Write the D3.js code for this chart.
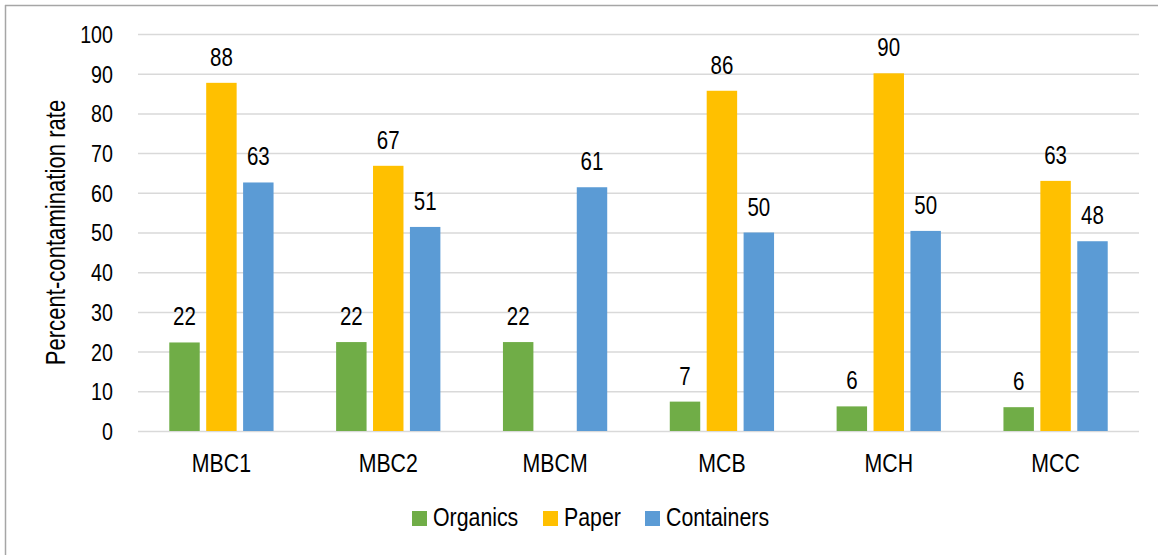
<!DOCTYPE html>
<html>
<head>
<meta charset="utf-8">
<script src="https://cdn.jsdelivr.net/npm/d3@7/dist/d3.min.js"></script>
<style>
  html, body { margin: 0; padding: 0; background: #fff; }
  svg { display: block; }
  text { font-family: "Liberation Sans", Arial, sans-serif; fill: #000; }
</style>
</head>
<body>
<svg id="chart" width="1158" height="555"></svg>
<script>
// Contamination rates (%) by site and stream
const sites = ["MBC1", "MBC2", "MBCM", "MCB", "MCH", "MCC"];
const seriesNames = ["Organics", "Paper", "Containers"];
const organics = [22.3, 22.4, 22.4, 7.4, 6.2, 6.0];
const paper = [87.7, 66.8, null, 85.7, 90.1, 63.0];
const containers = [62.6, 51.4, 61.4, 50.0, 50.4, 47.8];
const seriesColors = ["#70ad47", "#ffc000", "#5b9bd5"];
const yTicks = [0, 10, 20, 30, 40, 50, 60, 70, 80, 90, 100];

const seriesValues = [organics, paper, containers];
const svg = d3.select("#chart");
const FONT = '"Liberation Sans", Arial, sans-serif';
const NARROW = "scale(0.82,1)"; // condensed lettering

const plot = { left: 138, right: 1139, top: 34, bottom: 431 };

// Outer frame (left and top edges)
svg.append("line").attr("x1", 5.5).attr("x2", 5.5).attr("y1", 5).attr("y2", 555)
  .attr("stroke", "#a6a6a6").attr("stroke-width", 1.5);
svg.append("line").attr("x1", 5).attr("x2", 1158).attr("y1", 5.5).attr("y2", 5.5)
  .attr("stroke", "#a6a6a6").attr("stroke-width", 1.5);

const y = d3.scaleLinear().domain([0, 100]).range([plot.bottom, plot.top]);
const x0 = d3.scaleBand().domain(sites).range([plot.left, plot.right])
  .paddingInner(0.375).paddingOuter(0.1875);
const x1 = d3.scaleBand().domain(seriesNames).range([0, x0.bandwidth()])
  .paddingInner(0.175).paddingOuter(0);

// Gridlines
svg.append("g").selectAll("line").data(yTicks).join("line")
  .attr("x1", plot.left).attr("x2", plot.right)
  .attr("y1", d => y(d) + 0.5).attr("y2", d => y(d) + 0.5)
  .attr("stroke", "#d9d9d9").attr("stroke-width", 1.5);

// Y axis tick labels
const yAxis = d3.axisLeft(y).tickValues(yTicks).tickSize(0).tickPadding(0);
const yg = svg.append("g").attr("transform", "translate(113,0)").call(yAxis);
yg.select(".domain").remove();
yg.selectAll("text").attr("font-size", 24).attr("fill", "#000")
  .style("font-family", FONT)
  .attr("x", 0).attr("dy", "0.35em").attr("transform", NARROW);

// Y axis title
svg.append("text")
  .attr("transform", `translate(65,${(plot.top + plot.bottom) / 2}) rotate(-90) ${NARROW}`)
  .attr("text-anchor", "middle").attr("font-size", 27)
  .text("Percent-contamination rate");

// Category labels
const xAxis = d3.axisBottom(x0).tickSize(0).tickPadding(0);
const xg = svg.append("g").attr("transform", `translate(0,${plot.bottom})`).call(xAxis);
xg.select(".domain").remove();
xg.selectAll("text").attr("font-size", 26).attr("fill", "#000")
  .style("font-family", FONT)
  .attr("dy", null).attr("y", 41).attr("transform", NARROW);

// Bars and value labels
const cells = [];
sites.forEach((site, i) => {
  seriesNames.forEach((name, s) => {
    const v = seriesValues[s][i];
    if (v != null) cells.push({ site, name, value: v, color: seriesColors[s] });
  });
});

const groups = svg.append("g");
groups.selectAll("rect").data(cells).join("rect")
  .attr("x", d => x0(d.site) + x1(d.name))
  .attr("y", d => y(d.value))
  .attr("width", x1.bandwidth())
  .attr("height", d => y(0) - y(d.value))
  .attr("fill", d => d.color);

groups.selectAll("text").data(cells).join("text")
  .attr("transform", d =>
    `translate(${x0(d.site) + x1(d.name) + x1.bandwidth() / 2},${y(d.value) - 17}) ${NARROW}`)
  .attr("text-anchor", "middle").attr("font-size", 25)
  .text(d => d3.format(".0f")(d.value));

// Legend
const legendItems = [
  { name: "Organics", color: seriesColors[0], x: 412 },
  { name: "Paper", color: seriesColors[1], x: 543 },
  { name: "Containers", color: seriesColors[2], x: 645 }
];
const lg = svg.append("g");
legendItems.forEach(it => {
  lg.append("rect").attr("x", it.x).attr("y", 511).attr("width", 15).attr("height", 15).attr("fill", it.color);
  lg.append("text").attr("transform", `translate(${it.x + 21},526) ${NARROW}`)
    .attr("font-size", 26).text(it.name);
});
</script>
</body>
</html>
